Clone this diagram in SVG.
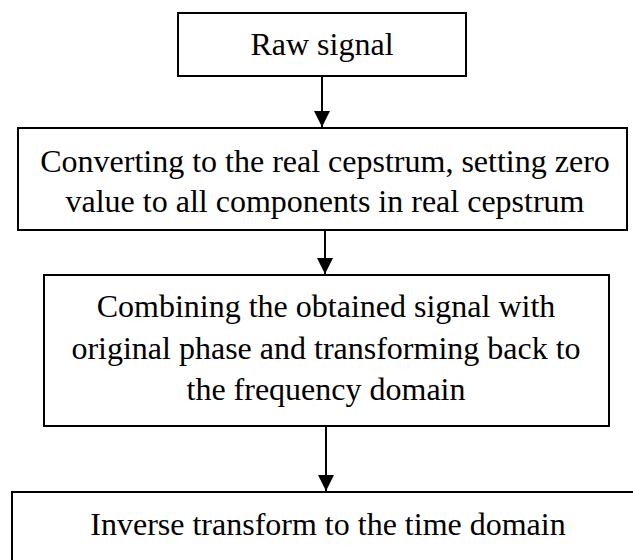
<svg xmlns="http://www.w3.org/2000/svg" width="633" height="560" viewBox="0 0 633 560">
<style>
.box{fill:#fff;stroke:#000;stroke-width:2}
.t{font-family:"Liberation Serif","Times New Roman",serif;font-size:32px;fill:#000;text-anchor:middle}
.c{stroke:#000;stroke-width:2;fill:none}
</style>
<defs>
<marker id="ah" viewBox="0 0 16 16" refX="16" refY="8" markerWidth="16" markerHeight="16" markerUnits="userSpaceOnUse" orient="auto">
<path d="M0,0 L16,8 L0,16 Z" fill="#000"/>
</marker>
</defs>
<rect width="633" height="560" fill="#fff"/>
<g id="n1">
<rect class="box" x="178" y="13" width="288" height="63"/>
<text class="t" x="322" y="55">Raw signal</text>
</g>
<g id="n2">
<rect class="box" x="18" y="128" width="609" height="102"/>
<text class="t" x="325" y="172">Converting to the real cepstrum, setting zero</text>
<text class="t" x="325" y="212">value to all components in real cepstrum</text>
</g>
<g id="n3">
<rect class="box" x="44" y="275" width="565" height="151"/>
<text class="t" x="326" y="317">Combining the obtained signal with</text>
<text class="t" x="326" y="359">original phase and transforming back to</text>
<text class="t" x="326" y="400">the frequency domain</text>
</g>
<g id="n4">
<rect class="box" x="12" y="492" width="660" height="120"/>
<text class="t" x="328" y="535">Inverse transform to the time domain</text>
</g>
<g id="connectors">
<line class="c" x1="322" y1="76" x2="322" y2="127" marker-end="url(#ah)"/>
<line class="c" x1="325" y1="230" x2="325" y2="274" marker-end="url(#ah)"/>
<line class="c" x1="326" y1="426" x2="326" y2="491" marker-end="url(#ah)"/>
</g>
</svg>
